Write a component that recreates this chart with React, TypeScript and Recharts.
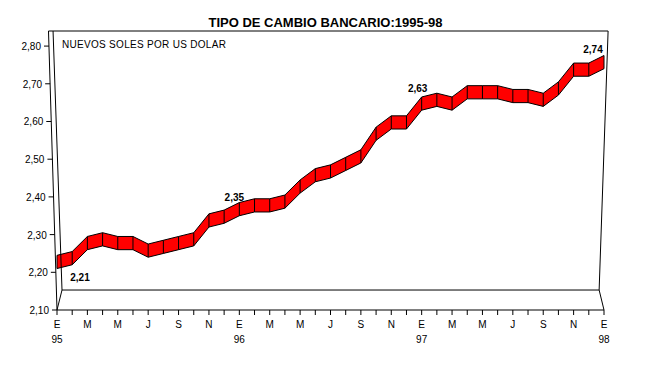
import React from "react";
import {
  ComposedChart,
  Area,
  Line,
  XAxis,
  YAxis,
  ReferenceLine,
  LabelList,
  ErrorBar,
} from "recharts";

// meses (inicial) y años del eje X
const meses = ["E", "F", "M", "A", "M", "J", "J", "A", "S", "O", "N", "D"];
const anios = ["95", "96", "97", "98"];

// tipo de cambio mensual, ene-95 a ene-98
const tipoCambio = [
  2.21, 2.22, 2.26, 2.27, 2.26, 2.26, 2.24, 2.25, 2.26, 2.27, 2.32, 2.33,
  2.35, 2.36, 2.36, 2.37, 2.41, 2.44, 2.45, 2.47, 2.49, 2.55, 2.58, 2.58,
  2.63, 2.64, 2.63, 2.66, 2.66, 2.66, 2.65, 2.65, 2.64, 2.67, 2.72, 2.72,
  2.74,
];

const yTicks = [2.1, 2.2, 2.3, 2.4, 2.5, 2.6, 2.7, 2.8];
const conEtiqueta = [0, 12, 24, 36];

const DEPTH = 0.035; // grosor de la cinta 3D
const Y_MIN = 2.1;
const Y_MAX = 2.84;
const FLOOR = 2.153;

const data = tipoCambio.map((v, i) => ({
  i,
  v,
  banda: [v, v + DEPTH],
  sep: [0, DEPTH],
  lbl: conEtiqueta.includes(i) ? v : null,
}));

const xTicks = tipoCambio.map((_, i) => i);
const fmt = (v: number) => v.toFixed(2).replace(".", ",");
const font = "Arial, 'Liberation Sans', sans-serif";

const XTick = (props: any) => {
  const { x, y, payload } = props;
  const i = payload.value;
  if (i % 2 !== 0) return <g />;
  return (
    <g>
      <text x={x} y={y + 11} textAnchor="middle" fontSize={10} fontFamily={font} fill="#000">
        {meses[i % 12]}
      </text>
      {i % 12 === 0 && (
        <text x={x} y={y + 26} textAnchor="middle" fontSize={10} fontFamily={font} fill="#000">
          {anios[i / 12]}
        </text>
      )}
    </g>
  );
};

const YTick = (props: any) => {
  const { x, y, payload } = props;
  const v = payload.value;
  const sx = x - (8 * (v - Y_MIN)) / 0.7;
  return (
    <g>
      <line x1={sx - 5} x2={sx} y1={y} y2={y} stroke="#000" />
      <text x={sx - 8} y={y + 4} textAnchor="end" fontSize={10} fontFamily={font} fill="#000">
        {fmt(v)}
      </text>
    </g>
  );
};

const offsets: Record<number, [number, number]> = {
  0: [23, 12],
  12: [-5, -15],
  24: [-4, -18],
  36: [-11, -16],
};

const ValueLabel = (props: any) => {
  const { x, y, value, index } = props;
  if (value == null) return null;
  const [dx, dy] = offsets[index] || [0, -12];
  return (
    <text x={x + dx} y={y + dy} textAnchor="middle" fontSize={10} fontWeight="bold" fontFamily={font} fill="#000">
      {fmt(value)}
    </text>
  );
};

const App = () => {
  return (
    <div style={{ position: "absolute", left: 0, top: 0, width: 651, height: 380, background: "#fff" }}>
      <div
        style={{
          position: "absolute",
          left: 0,
          width: 651,
          top: 15,
          textAlign: "center",
          fontFamily: font,
          fontWeight: "bold",
          fontSize: 13,
        }}
      >
        TIPO DE CAMBIO BANCARIO:1995-98
      </div>
      <div
        style={{
          position: "absolute",
          left: 62,
          top: 39,
          fontFamily: font,
          fontSize: 10,
          letterSpacing: 0.3,
        }}
      >
        NUEVOS SOLES POR US DOLAR
      </div>
      <ComposedChart
        width={651}
        height={380}
        data={data}
        margin={{ top: 31, right: 47, bottom: 30, left: 0 }}
      >
        <XAxis
          type="number"
          dataKey="i"
          domain={[0, 36]}
          ticks={xTicks}
          interval={0}
          tickSize={5}
          tickMargin={2}
          height={40}
          axisLine={{ stroke: "#000" }}
          tickLine={{ stroke: "#000" }}
          tick={<XTick />}
        />
        <YAxis
          type="number"
          domain={[Y_MIN, Y_MAX]}
          ticks={yTicks}
          width={57}
          axisLine={false}
          tickLine={false}
          tickSize={0}
          tickMargin={0}
          tick={<YTick />}
        />
        {/* marco en perspectiva */}
        <ReferenceLine segment={[{ x: -0.56, y: Y_MAX }, { x: 0, y: Y_MIN }]} stroke="#000" ifOverflow="visible" />
        <ReferenceLine segment={[{ x: -0.26, y: Y_MAX }, { x: 0.33, y: FLOOR }]} stroke="#000" ifOverflow="visible" />
        <ReferenceLine segment={[{ x: 0.33, y: FLOOR }, { x: 0, y: Y_MIN }]} stroke="#000" ifOverflow="visible" />
        <ReferenceLine segment={[{ x: 0.33, y: FLOOR }, { x: 35.68, y: FLOOR }]} stroke="#000" ifOverflow="visible" />
        <ReferenceLine segment={[{ x: -0.56, y: Y_MAX }, { x: 36.27, y: Y_MAX }]} stroke="#000" ifOverflow="visible" />
        <ReferenceLine segment={[{ x: 35.68, y: FLOOR }, { x: 36.27, y: Y_MAX }]} stroke="#000" ifOverflow="visible" />
        <ReferenceLine segment={[{ x: 35.68, y: FLOOR }, { x: 36, y: Y_MIN }]} stroke="#000" ifOverflow="visible" />
        <Area
          type="linear"
          dataKey="banda"
          fill="#ff0000"
          fillOpacity={1}
          stroke="#000"
          strokeWidth={1}
          dot={false}
          activeDot={false}
          isAnimationActive={false}
        />
        <Line
          type="linear"
          dataKey="v"
          stroke="none"
          dot={false}
          activeDot={false}
          isAnimationActive={false}
        >
          <ErrorBar dataKey="sep" width={0} stroke="#000" strokeWidth={1} direction="y" isAnimationActive={false} />
          <LabelList dataKey="lbl" content={<ValueLabel />} />
        </Line>
      </ComposedChart>
    </div>
  );
};

export default App;
